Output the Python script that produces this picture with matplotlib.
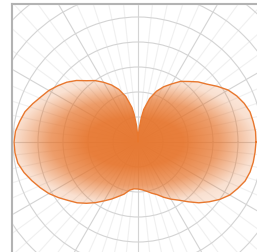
import numpy as np
import matplotlib
matplotlib.use("Agg")
import matplotlib.pyplot as plt
from matplotlib.lines import Line2D
from matplotlib.patches import Rectangle

# boundary of the shape, angle in degrees -> radius (grid circle = 25)
angles = [0, 5, 10, 15, 20, 25, 30, 35, 40, 45, 50, 55, 60, 65, 70, 75, 80, 82, 85, 88, 90,
          92, 95, 98, 100, 105, 110, 115, 120, 125, 130, 135, 140, 145, 150, 155, 160, 165, 170, 175,
          180, 185, 190, 195, 200, 205, 210, 215, 220, 225, 230, 235, 240, 245, 250, 255, 260, 265,
          270, 275, 280, 285, 290, 295, 300, 305, 310, 315, 320, 325, 330, 335, 340, 345, 350, 355]
radius = [118, 118, 117, 116, 113, 109, 104, 97, 90, 85, 79, 74, 67, 61, 54, 45, 33, 25, 14, 5, 0,
          5, 16, 28, 35, 47, 56, 63, 69, 75, 80, 87, 93, 98, 103, 107, 112, 117, 120, 123,
          124, 123.5, 122, 118, 113, 108, 103, 97, 91, 86, 80, 74, 68, 63, 58, 54, 49, 47,
          47, 48, 50, 53, 56, 61, 66, 71, 78, 86, 93, 100, 106, 110, 114, 116, 117, 117.5]

grid_radii = [25, 50, 75, 100, 125, 150, 175]
major_spokes = np.arange(0, 360, 30)
minor_spokes = np.arange(0, 360, 6)

W, H = 257, 253
cx, cy, R = 138, 143, 200

fig = plt.figure(figsize=(W / 100, H / 100), dpi=100)
ax = fig.add_axes([(cx - R) / W, (H - cy - R) / H, 2 * R / W, 2 * R / H], projection="polar")
ax.set_yticks(grid_radii)
ax.set_yticklabels([])
ax.set_xticks(np.deg2rad(major_spokes))
ax.set_xticklabels([])
ax.set_xticks(np.deg2rad(minor_spokes), minor=True)
ax.tick_params(which="both", length=0)
ax.set_axisbelow(True)
ax.grid(which="major", color="#d4d4d4", lw=0.8)
ax.xaxis.grid(which="minor", color="#f0f0f0", lw=0.8)
ax.spines["polar"].set_visible(False)

th = np.deg2rad(angles + [angles[0]])
rr = radius + [radius[0]]
poly = ax.fill(th, rr, facecolor="none", edgecolor="none")[0]

# elliptical gradient over the bounding box of the shape
orange = np.array([230, 115, 42]) / 255
n = 2 * R
px = np.arange(n) + 0.5 - R
gx, gy = np.meshgrid(px, -px)
d = np.hypot((gx + 3) / 121, gy / 62)
alpha = np.interp(d, [0, 0.4, 0.7, 1.0, 1.3], [0.95, 0.92, 0.7, 0.22, 0.1])
img = np.zeros((n, n, 4))
img[..., :3] = orange
img[..., 3] = alpha
im = ax.imshow(img, extent=[0, 1, 0, 1], transform=ax.transAxes, origin="upper",
               interpolation="bilinear", zorder=1)
im.set_clip_path(poly)

ax.plot(th, rr, color="#e8772e", lw=1.0, zorder=3)
ax.set_xlim(0, 2 * np.pi)
ax.set_ylim(0, R)

# plot frame: white margin with grey left/top edges
fig.add_artist(Rectangle((0, 0), 12 / W, 1, transform=fig.transFigure, color="white", zorder=10))
fig.add_artist(Rectangle((0, 1 - 5 / H), 1, 5 / H, transform=fig.transFigure, color="white", zorder=10))
fig.add_artist(Line2D([12 / W, 12 / W], [0, 1 - 5 / H], transform=fig.transFigure,
                      color="#b3b3b3", lw=1.5, zorder=11))
fig.add_artist(Line2D([12 / W, 1], [1 - 5 / H, 1 - 5 / H], transform=fig.transFigure,
                      color="#b3b3b3", lw=1.5, zorder=11))

fig.savefig("out.png", dpi=100)
